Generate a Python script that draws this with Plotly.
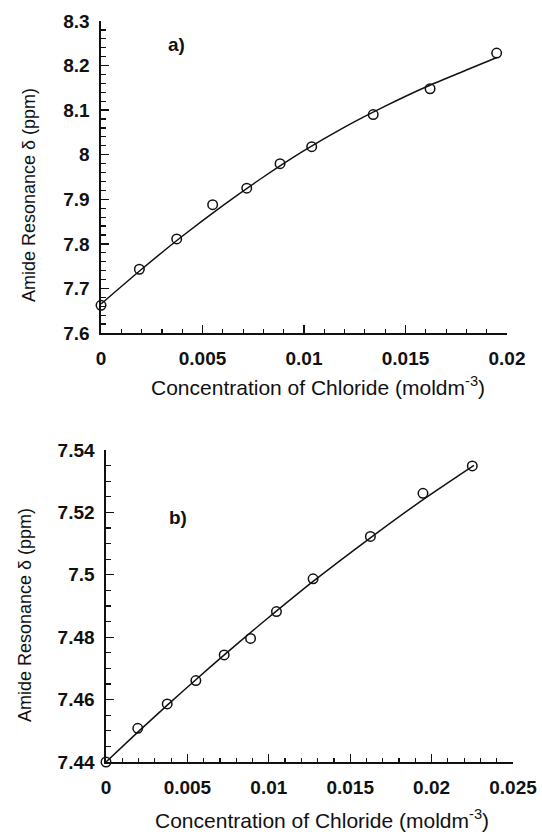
import plotly.graph_objects as go

# ---------- data ----------
# panel a)
a_conc = [0.0, 0.00189, 0.00373, 0.0055, 0.00718, 0.00882, 0.01038, 0.01341, 0.01621, 0.01949]
a_shift = [7.662, 7.743, 7.811, 7.888, 7.925, 7.980, 8.018, 8.090, 8.148, 8.228]
a_fit_conc = [0.0, 0.002, 0.004, 0.006, 0.008, 0.010, 0.012, 0.014, 0.016, 0.018, 0.0195]
a_fit_shift = [7.665, 7.743, 7.817, 7.886, 7.950, 8.009, 8.062, 8.109, 8.152, 8.190, 8.218]

# panel b)
b_conc = [0.0, 0.00195, 0.00376, 0.00552, 0.00726, 0.00888, 0.01047, 0.01272, 0.01624, 0.01947, 0.0225]
b_shift = [7.440, 7.4508, 7.4586, 7.4661, 7.4743, 7.4796, 7.4882, 7.4987, 7.5123, 7.5261, 7.5349]
b_fit_conc = [0.0, 0.002, 0.0038, 0.0055, 0.0073, 0.0089, 0.0105, 0.0127, 0.0162, 0.0195, 0.0226]
b_fit_shift = [7.440, 7.4498, 7.4584, 7.4663, 7.4745, 7.4816, 7.4885, 7.4978, 7.5117, 7.5242, 7.5351]

a_xticks = [0, 0.005, 0.01, 0.015, 0.02]
a_xlabels = ["0", "0.005", "0.01", "0.015", "0.02"]
a_yticks = [7.6, 7.7, 7.8, 7.9, 8.0, 8.1, 8.2, 8.3]
a_ylabels = ["7.6", "7.7", "7.8", "7.9", "8", "8.1", "8.2", "8.3"]
b_xticks = [0, 0.005, 0.01, 0.015, 0.02, 0.025]
b_xlabels = ["0", "0.005", "0.01", "0.015", "0.02", "0.025"]
b_yticks = [7.44, 7.46, 7.48, 7.50, 7.52, 7.54]
b_ylabels = ["7.44", "7.46", "7.48", "7.5", "7.52", "7.54"]

x_title = "Concentration of Chloride (moldm<sup>-3</sup>)"
y_title = "Amide Resonance δ (ppm)"

# ---------- layout helpers ----------
W, H = 542, 835
def fx(px):
    return px / W
def fy(py):
    return 1 - py / H

FONT = "Liberation Sans, Arial, sans-serif"
ink = "#111111"

fig = go.Figure()

marker = dict(symbol="circle-open", size=9.5, color=ink, line=dict(width=1.5, color=ink))
fitline = dict(color=ink, width=1.5, shape="spline", smoothing=0.6)

fig.add_trace(go.Scatter(x=a_fit_conc, y=a_fit_shift, mode="lines", line=fitline,
                         xaxis="x", yaxis="y", showlegend=False, hoverinfo="skip"))
fig.add_trace(go.Scatter(x=a_conc, y=a_shift, mode="markers", marker=marker,
                         xaxis="x", yaxis="y", showlegend=False, cliponaxis=False))
fig.add_trace(go.Scatter(x=b_fit_conc, y=b_fit_shift, mode="lines", line=fitline,
                         xaxis="x2", yaxis="y2", showlegend=False, hoverinfo="skip"))
fig.add_trace(go.Scatter(x=b_conc, y=b_shift, mode="markers", marker=marker,
                         xaxis="x2", yaxis="y2", showlegend=False, cliponaxis=False))

tickfont = dict(family=FONT, size=19, color=ink, weight="bold")

def xaxis(domain, anchor, rng, tv, tt, minor):
    return dict(domain=domain, anchor=anchor, range=rng, tickvals=tv, ticktext=tt, automargin=False,
                showline=True, linecolor=ink, linewidth=1.6, mirror=False,
                ticks="inside", ticklen=8, tickwidth=1.3, tickcolor=ink,
                minor=dict(dtick=minor, tick0=0, ticks="inside", ticklen=4, tickwidth=1.2, tickcolor=ink),
                showgrid=False, zeroline=False, tickfont=tickfont, ticklabelstandoff=8,
                ticklabeloverflow="allow", fixedrange=True)

def yaxis(domain, anchor, rng, tv, tt, minor):
    return dict(domain=domain, anchor=anchor, range=rng, tickvals=tv, ticktext=tt, automargin=False,
                showline=True, linecolor=ink, linewidth=1.6, mirror=False,
                ticks="inside", ticklen=8, tickwidth=1.3, tickcolor=ink,
                minor=dict(dtick=minor, tick0=rng[0], ticks="inside", ticklen=5, tickwidth=1.2, tickcolor=ink),
                showgrid=False, zeroline=False, tickfont=tickfont, ticklabelstandoff=6, fixedrange=True)

fig.update_layout(
    width=W, height=H,
    margin=dict(l=0, r=0, t=0, b=0, autoexpand=False),
    paper_bgcolor="white", plot_bgcolor="white",
    xaxis=xaxis([fx(101), fx(507)], "y", [0, 0.02], a_xticks, a_xlabels, 0.001),
    yaxis=yaxis([fy(333), fy(21)], "x", [7.6, 8.3], a_yticks, a_ylabels, 0.02),
    xaxis2=xaxis([fx(106), fx(513)], "y2", [0, 0.025], b_xticks, b_xlabels, 0.001),
    yaxis2=yaxis([fy(762), fy(450)], "x2", [7.44, 7.54], b_yticks, b_ylabels, 0.005),
    font=dict(family=FONT, color=ink),
    hovermode=False,
)

xtitlefont = dict(family=FONT, size=21, color=ink)
ytitlefont = dict(family=FONT, size=18, color=ink)
ann = [
    dict(x=fx(318), y=fy(386), text=x_title, font=xtitlefont),
    dict(x=fx(322), y=fy(819), text=x_title, font=xtitlefont),
    dict(x=fx(29), y=fy(195), text=y_title, textangle=-90, font=ytitlefont),
    dict(x=fx(25), y=fy(615), text=y_title, textangle=-90, font=ytitlefont),
    dict(x=fx(176), y=fy(45), text="<b>a)</b>", font=dict(family=FONT, size=19, color=ink)),
    dict(x=fx(178), y=fy(517), text="<b>b)</b>", font=dict(family=FONT, size=19, color=ink)),
]
for a in ann:
    a.update(xref="paper", yref="paper", showarrow=False, xanchor="center", yanchor="middle")
fig.update_layout(annotations=ann)

# remove the page's default 8px body margin so the 542x835 figure fills the window
fig.write_html("out.html",
               config={"displayModeBar": False, "staticPlot": True},
               post_script="document.body.style.margin='0';document.body.style.overflow='hidden';")
